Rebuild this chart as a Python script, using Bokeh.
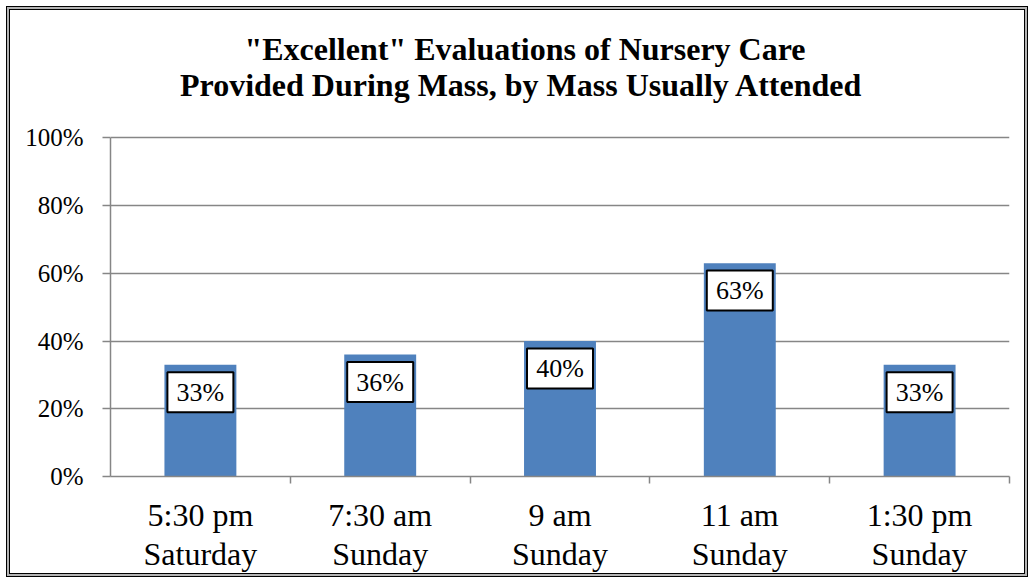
from bokeh.plotting import figure
from bokeh.models import ColumnDataSource, FixedTicker, Range1d, NumeralTickFormatter
from bokeh.core.properties import value
from bokeh.embed import file_html
from bokeh.resources import INLINE

# ---- data ----
masses = ["5:30 pm\nSaturday", "7:30 am\nSunday", "9 am\nSunday", "11 am\nSunday", "1:30 pm\nSunday"]
excellent_pct = [33, 36, 40, 63, 33]
label_texts = ["33%", "36%", "40%", "63%", "33%"]
y_ticks = [0, 20, 40, 60, 80, 100]
title_lines = ['"Excellent" Evaluations of Nursery Care',
               "Provided During Mass, by Mass Usually Attended"]

SERIF = "Liberation Serif"
GRAY = "#868686"
BLUE = "#4F81BD"

# layout (pixels)
W, H = 1016, 565
ML, MR, MB = 100, 17, 97
PLOT_H = 340                 # pixels spanned by 0..100 %
frame_h = H - MB             # frame reaches the top of the canvas (title area)
px = 100.0 / PLOT_H          # data units per pixel vertically
y_top = frame_h * px
cat_px = (W - ML - MR) / len(masses)

xs = [i + 0.5 for i in range(len(masses))]
label_off = 27.5 * px
src = ColumnDataSource(dict(
    x=xs, top=excellent_pct, lab=label_texts,
    ly=[v - label_off for v in excellent_pct],
))

# title placement (pixels above the 0% line / right of the y axis)
title_src = ColumnDataSource(dict(
    x=[414.5 / cat_px, 411.0 / cat_px],
    y=[429 * px, 393 * px],
    text=title_lines,
))

p = figure(width=W, height=H, output_backend="svg", toolbar_location=None,
           x_range=Range1d(0, len(masses)), y_range=Range1d(0, y_top),
           min_border_left=ML, min_border_right=MR, min_border_top=0,
           min_border_bottom=MB)
p.styles = {"margin": "9px 0 0 9px",
            "border": "1px solid black",
            "box-shadow": "0 0 0 2px #b4b4b4, 0 0 0 3px black"}
p.outline_line_color = None
p.background_fill_color = "white"
p.border_fill_color = "white"

p.vbar(x="x", top="top", bottom=0, width=0.4, source=src,
       fill_color=BLUE, line_color=None)
p.rect(x="x", y="ly", width=66, height=40, width_units="screen",
       height_units="screen", source=src, fill_color="white",
       line_color="black", line_width=2)
p.text(x="x", y="ly", text="lab", source=src, text_align="center",
       text_baseline="middle", text_font=value(SERIF),
       text_font_size="26px", text_color="black")

p.text(x="x", y="y", text="text", source=title_src, text_align="center",
       text_baseline="alphabetic", text_font=value(SERIF),
       text_font_style="bold", text_font_size="32px", text_color="black")

# y axis
p.yaxis.bounds = (0, 100)
p.yaxis.ticker = FixedTicker(ticks=y_ticks)
p.yaxis.formatter = NumeralTickFormatter(format="0")
p.yaxis.major_label_overrides = {t: f"{t}%" for t in y_ticks}
p.yaxis.axis_line_color = GRAY
p.yaxis.axis_line_width = 1.5
p.yaxis.major_tick_line_color = GRAY
p.yaxis.major_tick_line_width = 1.5
p.yaxis.major_tick_out = 8
p.yaxis.major_tick_in = 0
p.yaxis.minor_tick_line_color = None
p.yaxis.major_label_standoff = 19
p.yaxis.major_label_text_font = SERIF
p.yaxis.major_label_text_font_size = "25px"
p.yaxis.major_label_text_color = "black"

# x axis
p.xaxis.ticker = FixedTicker(ticks=xs, minor_ticks=list(range(1, len(masses) + 1)))
p.xaxis.major_label_overrides = {x: m for x, m in zip(xs, masses)}
p.xaxis.axis_line_color = GRAY
p.xaxis.axis_line_width = 1.5
p.xaxis.major_tick_line_color = None
p.xaxis.major_tick_out = 0
p.xaxis.major_tick_in = 0
p.xaxis.minor_tick_line_color = GRAY
p.xaxis.minor_tick_line_width = 1.5
p.xaxis.minor_tick_out = 7
p.xaxis.minor_tick_in = 0
p.xaxis.major_label_standoff = 13
p.xaxis.major_label_text_font = SERIF
p.xaxis.major_label_text_font_size = "32px"
p.xaxis.major_label_text_line_height = 1.1
p.xaxis.major_label_text_color = "black"

p.xgrid.grid_line_color = None
p.ygrid.ticker = FixedTicker(ticks=y_ticks)
p.ygrid.grid_line_color = GRAY
p.ygrid.grid_line_width = 1.5

open("out.html", "w").write(file_html(p, INLINE))
